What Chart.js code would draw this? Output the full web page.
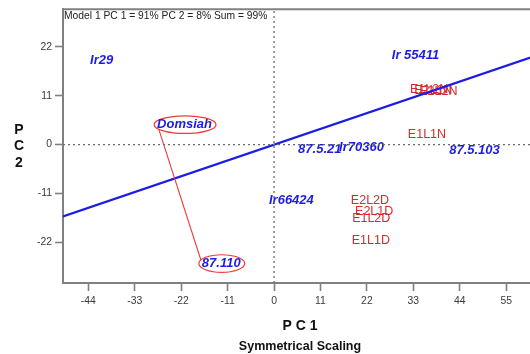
<!DOCTYPE html>
<html>
<head>
<meta charset="utf-8">
<script src="https://cdn.jsdelivr.net/npm/chart.js@4.4.1/dist/chart.umd.min.js"></script>
<style>
  html, body { margin: 0; padding: 0; background: #fff; overflow: hidden; width: 530px; height: 354px; }
  canvas { display: block; }
</style>
</head>
<body>
<canvas id="biplot" width="540" height="354"></canvas>
<script>
// Genotype scores (PC1, PC2)
const genotypes = ['Ir29', 'Ir 55411', 'Domsiah', '87.110', '87.5.21', 'Ir70360', '87.5.103', 'Ir66424'];
const genoPC1 = [-43.6, 27.9, -27.7, -17.1, 5.7, 15.4, 41.5, -1.2];
const genoPC2 = [18.9, 20.0, 4.6, -26.7, -1.1, -0.6, -1.3, -12.7];

// Environment scores (PC1, PC2)
const environments = ['E1L1N', 'E1L2N', 'E2L1N', 'E2L2N', 'E1L1D', 'E1L2D', 'E2L1D', 'E2L2D'];
const envPC1 = [31.7, 32.2, 33.2, 34.4, 18.4, 18.5, 19.2, 18.2];
const envPC2 = [2.2, 12.4, 12.1, 11.9, -21.6, -16.7, -15.2, -12.7];

// Pair of genotypes being compared and the perpendicular line through the origin
const compared = ['Domsiah', '87.110'];
const perpPC1 = [-50, 62.3];
const perpPC2 = [-16.2, 20.1];

// Axis limits and ticks
const pc1Range = [-50, 62.3];
const pc2Range = [-31.2, 30.5];
const xTicks = [-44, -33, -22, -11, 0, 11, 22, 33, 44, 55];
const yTicks = [-22, -11, 0, 11, 22];

const titleText = 'Model 1 PC 1 = 91% PC 2 = 8% Sum = 99%';
const xTitle = 'P C 1';
const xSubTitle = 'Symmetrical Scaling';
const yTitle = ['P', 'C', '2'];

const FONT = '"Liberation Sans", Arial, Helvetica, sans-serif';
const BLUE = '#1c1ce6';
const RED = '#d52b2b';
const LINE_RED = '#ef3a3a';
const GRAY = '#808080';

const toPoints = (xs, ys) => xs.map((x, i) => ({ x, y: ys[i] }));
const iA = genotypes.indexOf(compared[0]);
const iB = genotypes.indexOf(compared[1]);

const lineStyle = { showLine: true, pointRadius: 0, fill: false, tension: 0 };

const datasets = [
  { ...lineStyle, label: 'pc1zero', data: [{ x: 0, y: pc2Range[0] }, { x: 0, y: pc2Range[1] }],
    borderColor: '#6a6a6a', borderWidth: 1.3, borderDash: [2, 3] },
  { ...lineStyle, label: 'pc2zero', data: [{ x: pc1Range[0], y: 0 }, { x: pc1Range[1], y: 0 }],
    borderColor: '#6a6a6a', borderWidth: 1.3, borderDash: [2, 3] },
  { ...lineStyle, label: 'connector',
    data: [{ x: genoPC1[iA], y: genoPC2[iA] }, { x: genoPC1[iB], y: genoPC2[iB] }],
    borderColor: LINE_RED, borderWidth: 1.1 },
  { ...lineStyle, label: 'perpendicular', data: toPoints(perpPC1, perpPC2),
    borderColor: BLUE, borderWidth: 2.3 },
  { label: 'genotypes', data: toPoints(genoPC1, genoPC2), pointRadius: 0, showLine: false,
    names: genotypes, labelFont: 'italic bold 13px ' + FONT, labelColor: BLUE },
  { label: 'environments', data: toPoints(envPC1, envPC2), pointRadius: 0, showLine: false,
    names: environments, labelFont: '12.5px ' + FONT, labelColor: RED }
];

function drawLabels(chart, circledPass) {
  const ctx = chart.ctx;
  chart.data.datasets.forEach((ds, di) => {
    if (!ds.names) return;
    const meta = chart.getDatasetMeta(di);
    meta.data.forEach((el, i) => {
      const name = ds.names[i];
      const circled = compared.includes(name);
      if (circled !== circledPass) return;
      ctx.save();
      ctx.font = ds.labelFont;
      ctx.textBaseline = 'middle';
      ctx.textAlign = 'left';
      if (circled) {
        const w = ctx.measureText(name).width;
        ctx.beginPath();
        ctx.ellipse(el.x + w / 2 + 0.5, el.y + 0.5, w / 2 + 3.5, 8.8, 0, 0, Math.PI * 2);
        ctx.fillStyle = '#fff';
        ctx.fill();
        ctx.strokeStyle = LINE_RED;
        ctx.lineWidth = 1.2;
        ctx.stroke();
      }
      ctx.fillStyle = ds.labelColor;
      ctx.fillText(name, el.x, el.y);
      ctx.restore();
    });
  });
}

const biplotDecor = {
  id: 'biplotDecor',
  beforeDatasetsDraw(chart) { drawLabels(chart, false); },
  afterDatasetsDraw(chart) { drawLabels(chart, true); },
  afterDraw(chart) {
    const { ctx, chartArea: a } = chart;
    ctx.save();
    // frame top edge
    ctx.strokeStyle = GRAY;
    ctx.lineWidth = 2;
    ctx.beginPath();
    ctx.moveTo(a.left - 1, a.top);
    ctx.lineTo(a.right, a.top);
    ctx.stroke();
    // model summary
    ctx.fillStyle = '#222';
    ctx.font = '10.3px ' + FONT;
    ctx.textBaseline = 'middle';
    ctx.textAlign = 'left';
    ctx.fillText(titleText, a.left + 1, a.top + 7);
    // axis titles
    const cx = (a.left + a.right) / 2;
    ctx.fillStyle = '#111';
    ctx.textAlign = 'center';
    ctx.font = 'bold 14px ' + FONT;
    ctx.fillText(xTitle, cx, 326);
    ctx.font = 'bold 12.5px ' + FONT;
    ctx.fillText(xSubTitle, cx, 347);
    ctx.font = 'bold 14px ' + FONT;
    const cy = (a.top + a.bottom) / 2;
    yTitle.forEach((ch, k) => ctx.fillText(ch, 19, cy - 16 + k * 16.3));
    ctx.restore();
  }
};

const tickFont = { family: FONT, size: 10.4 };

new Chart(document.getElementById('biplot'), {
  type: 'scatter',
  data: { datasets },
  options: {
    responsive: false,
    animation: false,
    devicePixelRatio: 1,
    layout: { padding: { top: 8, right: 3, left: 0, bottom: 0 } },
    plugins: { legend: { display: false }, tooltip: { enabled: false } },
    scales: {
      x: {
        type: 'linear', min: pc1Range[0], max: pc1Range[1],
        afterBuildTicks(s) { s.ticks = xTicks.map(v => ({ value: v })); },
        afterFit(s) { s.height = 71; },
        grid: { drawOnChartArea: false, drawTicks: true, tickLength: 8, tickColor: GRAY, tickWidth: 1.6 },
        border: { color: GRAY, width: 2 },
        ticks: { font: tickFont, color: '#3a3a3a', padding: 4, maxRotation: 0, autoSkip: false }
      },
      y: {
        type: 'linear', min: pc2Range[0], max: pc2Range[1],
        afterBuildTicks(s) { s.ticks = yTicks.map(v => ({ value: v })); },
        afterFit(s) { s.width = 63; },
        grid: { drawOnChartArea: false, drawTicks: true, tickLength: 8, tickColor: GRAY, tickWidth: 1.6 },
        border: { color: GRAY, width: 2 },
        ticks: { font: tickFont, color: '#3a3a3a', padding: 3, autoSkip: false }
      }
    }
  },
  plugins: [biplotDecor]
});
</script>
</body>
</html>
